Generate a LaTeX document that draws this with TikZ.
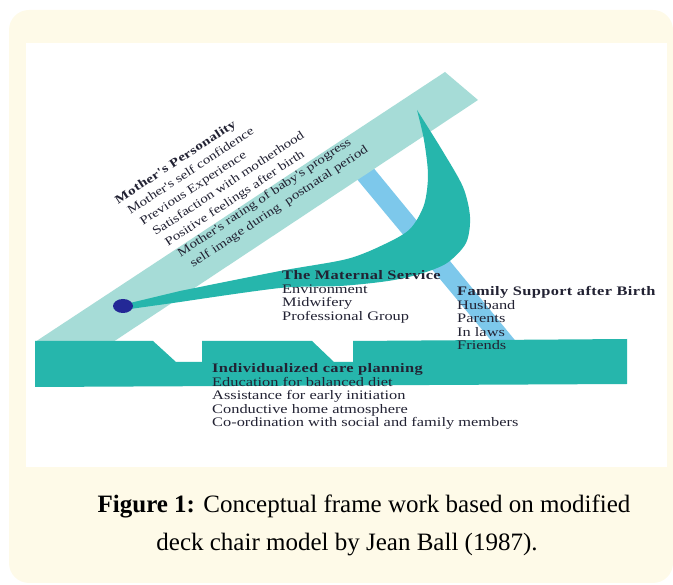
\documentclass[tikz,border=0pt]{standalone}
\usepackage{fontspec}
\setmainfont{Liberation Serif}
\newfontfamily\chartfont{Liberation Serif}[FakeStretch=1.26,BoldFeatures={LetterSpace=3}]
\definecolor{framey}{HTML}{FEFAE8}
\definecolor{palec}{HTML}{A6DCD7}
\definecolor{tealc}{HTML}{26B6AC}
\definecolor{skyc}{HTML}{7DC8EB}
\definecolor{dotc}{HTML}{232896}
\definecolor{inkc}{HTML}{222233}

\begin{document}
\begin{tikzpicture}[x=1pt,y=-1pt,
                    every node/.style = {inner sep=0pt, text=inkc,
                    align=left, anchor=base west,
                    font=\chartfont\fontsize{13}{13.5}\selectfont},
                    rotlist/.style = {rotate=33.5,
                    font=\chartfont\fontsize{12}{15.7}\selectfont},
                    caption/.style = {anchor=base, text=black,
                    font=\fontsize{25}{30}\selectfont}]
  \useasboundingbox (0,0) rectangle (673,585);
  \fill[framey, rounded corners=20pt] (9,10) rectangle (673,583);
  \fill[white] (26,43) rectangle (667,467);

  \fill[skyc] (341,160) -- (367,160) -- (523,350) -- (499,350) -- cycle;
  \fill[palec] (35,342) -- (445,72) -- (478,100) -- (113,342) -- cycle;
  \fill[tealc] (130,303)
    -- plot[smooth] coordinates {(180,291) (280,271) (347,259) (385,244)
       (410,229) (424,205) (428,175) (424,140) (417,110)}
    -- plot[smooth] coordinates {(417,110) (442,150) (463,187) (470,217)
       (466,243) (447,263) (420,274) (388,281) (340,286) (280,288) (180,302)}
    -- (130,309) -- cycle;
  \fill[tealc] (35,341) -- (153,341) -- (176,362) -- (202,362) -- (202,341)
    -- (312,341) -- (334,362) -- (353,362) -- (353,341) -- (627,339)
    -- (627,384) -- (35,387) -- cycle;
  \fill[dotc] (123,306) ellipse [x radius=10, y radius=7];

  \node[rotlist] (personality) at (170,283)
    {\textbf{Mother's Personality}\\
     \hspace*{4.6pt}Mother's self confidence\\
     \hspace*{9.2pt}Previous Experience\\
     \hspace*{13.8pt}Satisfaction with motherhood\\
     \hspace*{18.4pt}Positive feelings after birth\\
     \hspace*{23pt}Mother's rating of baby's progress\\
     \hspace*{27.6pt}self image during\ \ postnatal period};
  \node (service) at (282,320.5)
    {\textbf{The Maternal Service}\\
     Environment\\
     Midwifery\\
     Professional Group};
  \node (family) at (457,350)
    {\textbf{Family Support after Birth}\\
     Husband\\
     Parents\\
     In laws\\
     Friends};
  \node (planning) at (212,427)
    {\textbf{Individualized care planning}\\
     Education for balanced diet\\
     Assistance for early initiation\\
     Conductive home atmosphere\\
     Co-ordination with social and family members};

  \node[caption] (cap1) at (364,513)
    {\textbf{Figure 1:} Conceptual frame work based on modified};
  \node[caption] (cap2) at (347,551)
    {deck chair model by Jean Ball (1987).};
\end{tikzpicture}
\end{document}
